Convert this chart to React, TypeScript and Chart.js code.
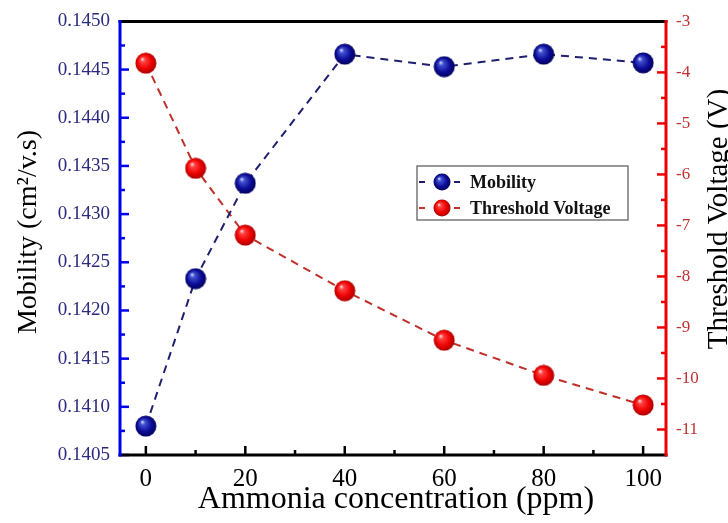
import React, { useEffect, useRef } from "react";
import { Chart, registerables } from "chart.js";
Chart.register(...registerables);

const concentrations = [0, 10, 20, 40, 60, 80, 100];
const mobility = [0.1408, 0.14233, 0.14332, 0.14466, 0.14453, 0.14466, 0.14457];
const thresholdVoltage = [-3.82, -5.88, -7.19, -8.28, -9.25, -9.94, -10.52];

const xMajorTicks = [0, 20, 40, 60, 80, 100];
const xMinorTicks = [10, 30, 50, 70, 90];
const leftMajorTicks = [0.1405, 0.141, 0.1415, 0.142, 0.1425, 0.143, 0.1435, 0.144, 0.1445, 0.145];
const leftMinorTicks = [0.14075, 0.14125, 0.14175, 0.14225, 0.14275, 0.14325, 0.14375, 0.14425, 0.14475];
const rightMajorTicks = [-3, -4, -5, -6, -7, -8, -9, -10, -11];
const rightMinorTicks = [-3.5, -4.5, -5.5, -6.5, -7.5, -8.5, -9.5, -10.5];

const xTitle = "Ammonia concentration (ppm)";
const leftTitle = "Mobility (cm\u00B2/v.s)";
const rightTitle = "Threshold Voltage (V)";
const legendLabels = ["Mobility", "Threshold Voltage"];

const SERIF = "'Liberation Serif', 'DejaVu Serif', serif";

function makeSphere(stops: string[], size: number): HTMLCanvasElement {
  const c = document.createElement("canvas");
  c.width = size;
  c.height = size;
  const g = c.getContext("2d")!;
  const r = size / 2;
  const grad = g.createRadialGradient(r - r * 0.35, r - r * 0.4, 0, r, r, r);
  grad.addColorStop(0, stops[0]);
  grad.addColorStop(0.22, stops[1]);
  grad.addColorStop(0.65, stops[2]);
  grad.addColorStop(1, stops[3]);
  g.fillStyle = grad;
  g.beginPath();
  g.arc(r, r, r - 0.5, 0, Math.PI * 2);
  g.fill();
  return c;
}

export default function App() {
  const ref = useRef<HTMLCanvasElement | null>(null);
  useEffect(() => {
    if (!ref.current) return;
    const blueSphere = makeSphere(["#e8ecff", "#4050d0", "#0c0c98", "#000055"], 22);
    const redSphere = makeSphere(["#fff0f0", "#ff4040", "#ee0000", "#a00000"], 22);
    const blueSmall = makeSphere(["#e8ecff", "#4050d0", "#0c0c98", "#000055"], 18);
    const redSmall = makeSphere(["#fff0f0", "#ff4040", "#ee0000", "#a00000"], 18);

    const decor = {
      id: "decor",
      afterDraw(chart: any) {
        const ctx = chart.ctx as CanvasRenderingContext2D;
        const { left, right, top, bottom } = chart.chartArea;
        const sx = chart.scales.x;
        const sl = chart.scales.y;
        const sr = chart.scales.y1;
        ctx.save();
        const line = (x1: number, y1: number, x2: number, y2: number, color: string, w: number) => {
          ctx.strokeStyle = color;
          ctx.lineWidth = w;
          ctx.beginPath();
          ctx.moveTo(x1, y1);
          ctx.lineTo(x2, y2);
          ctx.stroke();
        };
        // ticks
        xMajorTicks.forEach((v) => { const p = sx.getPixelForValue(v); line(p, bottom, p, bottom - 9, "#000", 2.5); });
        xMinorTicks.forEach((v) => { const p = sx.getPixelForValue(v); line(p, bottom, p, bottom - 5, "#000", 2.5); });
        leftMajorTicks.forEach((v) => { const p = sl.getPixelForValue(v); line(left, p, left + 9, p, "#0000ee", 2.5); });
        leftMinorTicks.forEach((v) => { const p = sl.getPixelForValue(v); line(left, p, left + 5, p, "#0000ee", 2.5); });
        rightMajorTicks.forEach((v) => { const p = sr.getPixelForValue(v); line(right, p, right - 9, p, "#ee0000", 2.5); });
        rightMinorTicks.forEach((v) => { const p = sr.getPixelForValue(v); line(right, p, right - 5, p, "#ee0000", 2.5); });
        // axis lines
        line(left - 1.5, top, right + 1.5, top, "#000", 3);
        line(left - 1.5, bottom, right + 1.5, bottom, "#000", 3);
        line(left, top - 1.5, left, bottom + 1.5, "#0000ee", 3);
        line(right, top - 1.5, right, bottom + 1.5, "#ee0000", 3);

        // titles
        ctx.fillStyle = "#000";
        ctx.textAlign = "center";
        ctx.textBaseline = "middle";
        ctx.font = `32px ${SERIF}`;
        ctx.fillText(xTitle, (left + right) / 2 + 3, 500);
        ctx.save();
        ctx.translate(29, 232);
        ctx.rotate(-Math.PI / 2);
        ctx.font = `28px ${SERIF}`;
        ctx.fillText(leftTitle, 0, 0);
        ctx.restore();
        ctx.save();
        ctx.translate(719, 219);
        ctx.rotate(-Math.PI / 2);
        ctx.font = `29px ${SERIF}`;
        ctx.fillText(rightTitle, 0, 0);
        ctx.restore();

        // legend
        const bx = 417, by = 166, bw = 211, bh = 54;
        ctx.fillStyle = "#fff";
        ctx.fillRect(bx, by, bw, bh);
        ctx.strokeStyle = "#777";
        ctx.lineWidth = 1.5;
        ctx.strokeRect(bx, by, bw, bh);
        const rows = [
          { y: 182, color: "#1f1f70", img: blueSmall, label: legendLabels[0] },
          { y: 208, color: "#c0302a", img: redSmall, label: legendLabels[1] },
        ];
        rows.forEach((r) => {
          line(bx + 2, r.y, bx + 8, r.y, r.color, 2);
          line(bx + 37, r.y, bx + 43, r.y, r.color, 2);
          ctx.drawImage(r.img, bx + 25 - 9, r.y - 9);
          ctx.fillStyle = "#111";
          ctx.textAlign = "left";
          ctx.textBaseline = "middle";
          ctx.font = `bold 18px ${SERIF}`;
          ctx.fillText(r.label, bx + 53, r.y + 1);
        });
        ctx.restore();
      },
    };

    const chart = new Chart(ref.current, {
      type: "line",
      data: {
        datasets: [
          {
            label: legendLabels[0],
            data: concentrations.map((c, i) => ({ x: c, y: mobility[i] })),
            yAxisID: "y",
            borderColor: "#1f1f70",
            borderWidth: 2,
            borderDash: [8, 6],
            pointStyle: blueSphere as any,
            pointRadius: 11,
            tension: 0,
          },
          {
            label: legendLabels[1],
            data: concentrations.map((c, i) => ({ x: c, y: thresholdVoltage[i] })),
            yAxisID: "y1",
            borderColor: "#c0302a",
            borderWidth: 2,
            borderDash: [8, 6],
            pointStyle: redSphere as any,
            pointRadius: 11,
            tension: 0,
          },
        ],
      },
      options: {
        responsive: false,
        animation: false,
        layout: { padding: { top: 20, left: 0, right: 0, bottom: 0 } },
        plugins: { legend: { display: false }, tooltip: { enabled: false } },
        scales: {
          x: {
            type: "linear",
            min: -5.2,
            max: 104.6,
            grid: { display: false, drawTicks: false },
            border: { display: false },
            afterBuildTicks: (s: any) => { s.ticks = xMajorTicks.map((v) => ({ value: v })); },
            afterFit: (s: any) => { s.height = 68; },
            ticks: {
              padding: 9,
              color: "#000",
              font: { family: SERIF, size: 25 },
              maxRotation: 0,
              callback: (v: any) => String(v),
            },
          },
          y: {
            type: "linear",
            position: "left",
            min: 0.1405,
            max: 0.145,
            grid: { display: false, drawTicks: false },
            border: { display: false },
            afterBuildTicks: (s: any) => { s.ticks = leftMajorTicks.map((v) => ({ value: v })); },
            afterFit: (s: any) => { s.width = 120; },
            ticks: {
              padding: 10,
              color: "#2a2a80",
              font: { family: SERIF, size: 19 },
              callback: (v: any) => Number(v).toFixed(4),
            },
          },
          y1: {
            type: "linear",
            position: "right",
            min: -11.5,
            max: -3,
            grid: { display: false, drawTicks: false },
            border: { display: false },
            afterBuildTicks: (s: any) => { s.ticks = rightMajorTicks.map((v) => ({ value: v })); },
            afterFit: (s: any) => { s.width = 62; },
            ticks: {
              padding: 10,
              color: "#c03030",
              font: { family: SERIF, size: 17 },
              callback: (v: any) => String(v),
            },
          },
        },
      },
      plugins: [decor],
    });
    return () => chart.destroy();
  }, []);
  return (
    <div style={{ position: "fixed", left: 0, top: 0, width: 728, height: 523, background: "#fff" }}>
      <canvas ref={ref} width={728} height={523} style={{ display: "block" }} />
    </div>
  );
}
